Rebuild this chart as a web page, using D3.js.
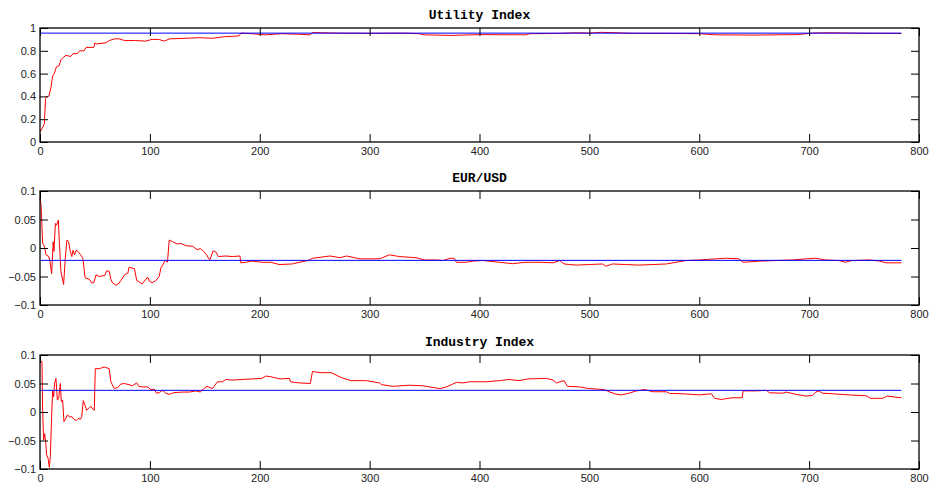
<!doctype html>
<html>
<head>
    <meta charset="utf-8">
    <style>
        body { margin: 0; background: #fff; }
        .tick text { font-family: "Liberation Sans", Arial, sans-serif; font-size: 11px; fill: #222; }
        .title { font-family: "Liberation Mono", "Courier New", monospace; font-size: 13px; font-weight: bold; }
    </style>
    <script src="https://d3js.org/d3.v7.min.js"></script>
</head>
<body>
<svg width="929" height="486"></svg>
<script>
    // x ticks shared by all three panels
    var xTicks = [0, 100, 200, 300, 400, 500, 600, 700, 800];
    var lastIndex = 784;

    // Utility Index
    var utilityTicks = [0, 0.2, 0.4, 0.6, 0.8, 1];
    var utilityMean = 0.955;
    var utilitySeries = [
        [0, 0.088], [2, 0.12], [4, 0.16], [5, 0.38], [6, 0.40], [8, 0.40], [10, 0.48], [11.5, 0.58],
        [13, 0.60], [15, 0.66], [17.5, 0.67], [19, 0.72], [21, 0.74], [23.6, 0.76], [28, 0.75], [30, 0.775],
        [34, 0.775], [36, 0.80], [40, 0.80], [42, 0.83], [49, 0.83], [50, 0.87], [51, 0.86], [60, 0.87],
        [63, 0.89], [68, 0.905], [72, 0.905], [77, 0.89], [87, 0.89], [96, 0.885], [102, 0.90], [108, 0.90],
        [113, 0.885], [118, 0.905], [133, 0.91], [145, 0.915], [157, 0.91], [169, 0.925], [181, 0.93],
        [183, 0.955], [193, 0.95], [205, 0.94], [220, 0.95], [236, 0.945], [246, 0.94], [248, 0.96],
        [270, 0.955], [300, 0.953], [330, 0.955], [345, 0.95], [350, 0.94], [374, 0.935], [400, 0.942],
        [442, 0.94], [446, 0.95], [470, 0.952], [488, 0.958], [500, 0.955], [510, 0.962], [518, 0.96],
        [540, 0.953], [580, 0.952], [600, 0.95], [615, 0.94], [650, 0.938], [688, 0.942], [700, 0.952],
        [703, 0.956], [720, 0.958], [739, 0.955], [760, 0.953], [784, 0.952]
    ];

    // EUR/USD
    var eurTicks = [-0.1, -0.05, 0, 0.05, 0.1];
    var eurMean = -0.0217;
    var eurSeries = [
        [0, 0.088], [1, 0.075], [2.4, 0.008], [4, 0.003], [5.5, -0.012], [8, -0.015], [9, -0.023],
        [10.6, -0.045], [12, 0.011], [12.7, -0.006], [14, 0.043], [15, 0.04], [16.7, 0.049], [17.6, 0.011],
        [19, -0.041], [21.5, -0.064], [23, -0.018], [24.5, 0.014], [26, 0.011], [27.6, -0.006], [29, -0.015],
        [30, -0.004], [31.5, -0.012], [33, -0.004], [34.5, -0.006], [37, -0.012], [39, -0.018], [41, -0.052],
        [45, -0.055], [47, -0.061], [49, -0.061], [51, -0.047], [54, -0.05], [59, -0.048], [60.6, -0.04],
        [63, -0.041], [64.5, -0.055], [66, -0.061], [69, -0.065], [71.5, -0.063], [73.6, -0.057], [77, -0.047],
        [80, -0.044], [81, -0.034], [86, -0.036], [88, -0.057], [90, -0.059], [93, -0.063], [95, -0.058],
        [98, -0.051], [99.4, -0.058], [102, -0.061], [105.5, -0.057], [108.5, -0.05], [110, -0.035],
        [112, -0.029], [114, -0.021], [116, -0.025], [117.6, 0.014], [120.6, 0.011], [125, 0.007], [128, 0.008],
        [133, 0.004], [139, 0.003], [143, -0.003], [146, -0.001], [149, -0.006], [151.5, -0.012],
        [154.5, -0.021], [157.6, -0.005], [160, -0.007], [162.4, -0.015], [169, -0.014], [175, -0.015],
        [182, -0.014], [182.7, -0.026], [187, -0.025], [193, -0.023], [202, -0.025], [210, -0.025],
        [217.6, -0.029], [229.7, -0.028], [236, -0.025], [244, -0.022], [248, -0.018], [264, -0.014],
        [273, -0.017], [279, -0.014], [291, -0.019], [309, -0.019], [318, -0.012], [327, -0.015], [342, -0.017],
        [350, -0.021], [361, -0.021], [367, -0.022], [373, -0.018], [377, -0.018], [379, -0.025], [388, -0.025],
        [394, -0.023], [403, -0.022], [418, -0.025], [430, -0.0275], [442, -0.025], [455, -0.025],
        [467, -0.026], [473, -0.022], [477, -0.028], [482, -0.029], [488, -0.03], [500, -0.029], [512, -0.028],
        [515, -0.032], [521, -0.028], [533, -0.029], [545, -0.03], [558, -0.029], [570, -0.028], [579, -0.025],
        [588, -0.022], [600, -0.021], [615, -0.019], [624, -0.018], [636, -0.019], [640, -0.025], [655, -0.023],
        [670, -0.022], [685, -0.021], [697, -0.019], [706, -0.018], [715, -0.021], [727, -0.022], [733, -0.025],
        [739, -0.022], [755, -0.021], [764, -0.023], [770, -0.026], [784, -0.026]
    ];

    // Industry Index
    var industryTicks = [-0.1, -0.05, 0, 0.05, 0.1];
    var industryMean = 0.038;
    var industrySeries = [
        [0, 0.091], [1.8, 0.088], [2.4, 0.0035], [3.3, -0.049], [4.2, -0.038], [5.2, -0.053], [6, -0.075],
        [7.3, -0.081], [8.5, -0.097], [9.4, -0.078], [10.6, -0.008], [11.5, 0.038], [12.4, 0.027], [13.3, 0.05],
        [14.5, 0.059], [15.8, 0.021], [17, 0.024], [18.5, 0.05], [19.4, 0.018], [20.6, 0.021], [21.8, -0.017],
        [23.6, -0.011], [25, -0.005], [27, -0.009], [29, -0.008], [31, -0.013], [33, -0.015], [35, -0.011],
        [36.7, -0.013], [38, -0.008], [39.4, 0.02], [41, 0.012], [42.4, 0.003], [45, 0.008], [46.4, 0.01],
        [48, 0.005], [49.4, 0.003], [50.3, 0.076], [54, 0.076], [58.5, 0.079], [63, 0.076], [64.5, 0.053],
        [67.6, 0.041], [70.6, 0.043], [73.6, 0.049], [76.7, 0.05], [81, 0.048], [84, 0.046], [88, 0.051],
        [90, 0.045], [93, 0.044], [98, 0.044], [101, 0.039], [104, 0.04], [106, 0.033], [108.5, 0.034],
        [111.5, 0.038], [114.5, 0.033], [117.6, 0.031], [122, 0.034], [130, 0.035], [136, 0.035], [142, 0.037],
        [146, 0.035], [149, 0.041], [152, 0.045], [157, 0.041], [161.5, 0.053], [166, 0.053], [169, 0.057],
        [175, 0.056], [184, 0.057], [193, 0.058], [202, 0.059], [205.5, 0.063], [210, 0.062], [216, 0.059],
        [219, 0.058], [227, 0.059], [228, 0.053], [236, 0.051], [246, 0.05], [248, 0.071], [255, 0.069],
        [265, 0.069], [274, 0.0605], [283, 0.055], [297, 0.055], [309, 0.051], [311, 0.048], [321, 0.045],
        [336, 0.047], [348, 0.046], [358, 0.043], [364, 0.041], [370, 0.044], [379, 0.052], [385, 0.051],
        [391, 0.053], [406, 0.053], [418, 0.055], [427, 0.057], [436, 0.055], [444, 0.058], [461, 0.059],
        [467, 0.056], [470, 0.051], [477, 0.055], [480, 0.045], [491, 0.044], [500, 0.041], [509, 0.04],
        [514, 0.039], [518, 0.0355], [524, 0.0314], [529, 0.03], [536, 0.033], [542, 0.0366], [550, 0.0395],
        [558, 0.0355], [570, 0.0355], [573, 0.0326], [585, 0.032], [600, 0.03], [611, 0.032], [614, 0.024],
        [620, 0.022], [630, 0.025], [639, 0.025], [640, 0.037], [652, 0.037], [661, 0.038], [664, 0.0337],
        [676, 0.033], [679, 0.035], [688, 0.031], [697, 0.028], [703, 0.029], [706, 0.035], [709, 0.037],
        [712, 0.033], [721, 0.032], [736, 0.03], [752, 0.0285], [756, 0.024], [767, 0.024], [771, 0.028],
        [779, 0.026], [784, 0.025]
    ];

    var panels = [
        { title: "Utility Index", top: 28, ticks: utilityTicks, domain: [0, 1], series: utilitySeries, mean: utilityMean },
        { title: "EUR/USD", top: 191, ticks: eurTicks, domain: [-0.1, 0.1], series: eurSeries, mean: eurMean },
        { title: "Industry Index", top: 355, ticks: industryTicks, domain: [-0.1, 0.1], series: industrySeries, mean: industryMean }
    ];

    var svg = d3.select("svg"),
        left = 40,
        right = 919,
        panelHeight = 114,
        tickLen = 8;

    var xScale = d3.scaleLinear().domain([0, 800]).range([left, right]);
    var fmt = d3.format("~g");

    panels.forEach(function(p) {
        var yScale = d3.scaleLinear().domain(p.domain).range([p.top + panelHeight, p.top]);
        var g = svg.append("g");

        var line = d3.line()
            .x(function(d) { return xScale(d[0]); })
            .y(function(d) { return yScale(d[1]); });

        // series (red) then the mean line (blue) on top
        g.append("path")
         .datum(p.series)
         .attr("fill", "none")
         .attr("stroke", "#ff0000")
         .attr("stroke-width", 1)
         .attr("d", line);

        g.append("path")
         .datum([[0, p.mean], [lastIndex, p.mean]])
         .attr("fill", "none")
         .attr("stroke", "#0000ff")
         .attr("stroke-width", 1)
         .attr("d", line);

        // axes, ticks pointing inward on all four sides
        g.append("g")
         .attr("transform", "translate(0," + (p.top + panelHeight) + ")")
         .call(d3.axisBottom(xScale).tickValues(xTicks).tickSize(-tickLen).tickSizeOuter(0).tickPadding(5).tickFormat(fmt));
        g.append("g")
         .attr("transform", "translate(0," + p.top + ")")
         .call(d3.axisTop(xScale).tickValues(xTicks).tickSize(-tickLen).tickSizeOuter(0).tickFormat(""));
        g.append("g")
         .attr("transform", "translate(" + left + ",0)")
         .call(d3.axisLeft(yScale).tickValues(p.ticks).tickSize(-tickLen).tickSizeOuter(0).tickPadding(4).tickFormat(fmt));
        g.append("g")
         .attr("transform", "translate(" + right + ",0)")
         .call(d3.axisRight(yScale).tickValues(p.ticks).tickSize(-tickLen).tickSizeOuter(0).tickFormat(""));

        g.selectAll(".domain").remove();
        g.selectAll(".tick line").attr("stroke", "#000");

        g.append("rect")
         .attr("x", left)
         .attr("y", p.top)
         .attr("width", right - left)
         .attr("height", panelHeight)
         .attr("fill", "none")
         .attr("stroke", "#000")
         .attr("stroke-width", 1.3);

        g.append("text")
         .attr("class", "title")
         .attr("x", (left + right) / 2)
         .attr("y", p.top - 9)
         .attr("text-anchor", "middle")
         .text(p.title);
    });
</script>
</body>
</html>
